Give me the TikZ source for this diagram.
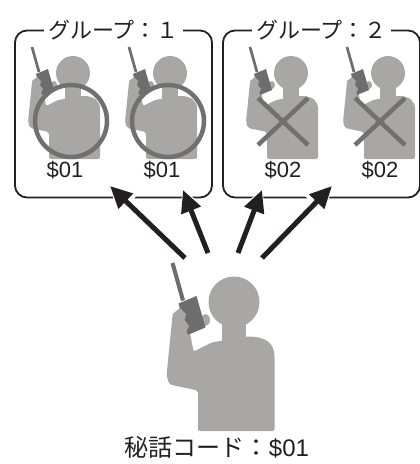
\documentclass[tikz,border=0pt]{standalone}
\usepackage{fontspec}
\setmainfont{Noto Sans CJK JP}
\newfontfamily\latinfont{Liberation Sans}
\usetikzlibrary{arrows.meta, positioning}

\definecolor{figgray}{HTML}{A9A7A6}
\definecolor{radiogray}{HTML}{6D6D6D}
\definecolor{markgray}{HTML}{707071}
\definecolor{ink}{HTML}{231F20}

\tikzset{
  talker/.pic={
    % body and raised arm
    \fill[figgray, rounded corners=2] (-24,86) -- (-24,59) -- (-43,55)
      -- (-45,49) -- (-41,9) -- (-35,5) -- (-29,22) -- (-27,33)
      -- (-15,27) -- (8,23) .. controls (22,23) and (27,28) .. (27,38)
      -- (27,86) -- cycle;
    \fill[figgray] (-8,8) rectangle (8,26);
    \fill[figgray] (0,0) circle (17);
    \fill[figgray] (-19,12) ellipse (3 and 4);
    % radio
    \fill[radiogray] (-42.3,-25.6) -- (-39.7,-26.4) -- (-32.7,-1.4) -- (-35.3,-0.6) -- cycle;
    \fill[radiogray] (-37,1) -- (-25,-4) -- (-19,17) -- (-31,22) -- cycle;
    % hand over the radio
    \fill[figgray] (-41,8) -- (-36,4) -- (-32,8) -- (-33,12) -- (-30,16)
      -- (-32,20) -- (-29,24) -- (-30,30) -- (-40,30) -- cycle;
  },
  grp/.style={draw=ink, line width=1.8pt, rounded corners=12pt,
    minimum width=197pt, minimum height=167pt, inner sep=0pt},
  grptitle/.style={fill=white, text=ink, font=\fontsize{22}{22}\selectfont,
    inner xsep=4pt, inner ysep=2pt},
  tag/.style={text=ink, font=\latinfont\fontsize{22}{22}\selectfont, inner sep=0pt},
  okmark/.style={draw=markgray, line width=4.5pt},
  ngmark/.style={draw=markgray, line width=4.5pt},
  beam/.style={draw=ink, line width=5pt, -{Triangle[length=22pt,width=20pt]},
    preaction={draw=white, line width=11pt, -{Triangle[length=26pt,width=30pt]}}},
}

\begin{document}
\begin{tikzpicture}[x=1pt, y=-1pt]
  \useasboundingbox (0,0) rectangle (420,464);

  % the two groups
  \node[grp] (grp1) at (113.5,114) {};
  \node[grp] (grp2) at (321.5,114) {};
  \node[grptitle] (title1) at (grp1.north) {グループ：１};
  \node[grptitle] (title2) at (grp2.north) {グループ：２};

  % receivers
  \foreach \hx/\code in {73/01, 170/01, 291/02, 388/02} {
    \pic at (\hx,73) {talker};
    \node[tag] (tag\hx) at (\hx-8,170) {\$\code};
  }
  \foreach \hx in {73, 170}
    \draw[okmark] (\hx-2,121) circle (36);
  \foreach \hx in {291, 388} {
    \draw[ngmark] (\hx-33,98) -- (\hx+17,145);
    \draw[ngmark] (\hx+17,98) -- (\hx-33,145);
  }

  % sender
  \pic[scale=1.5] at (234,302) {talker};
  \node[text=ink, font=\fontsize{24}{24}\selectfont, inner sep=0pt] (code) at (217,447)
    {秘話コード：{\latinfont\$01}};

  % calls going out
  \coordinate (s1) at (185,258);  \coordinate (d1) at (110,186);
  \coordinate (s2) at (208,253);  \coordinate (d2) at (183,190);
  \coordinate (s3) at (238,253);  \coordinate (d3) at (262,190);
  \coordinate (s4) at (262,258);  \coordinate (d4) at (332,186);
  \foreach \i in {1,...,4}
    \draw[beam] (s\i) -- (d\i);
\end{tikzpicture}
\end{document}
